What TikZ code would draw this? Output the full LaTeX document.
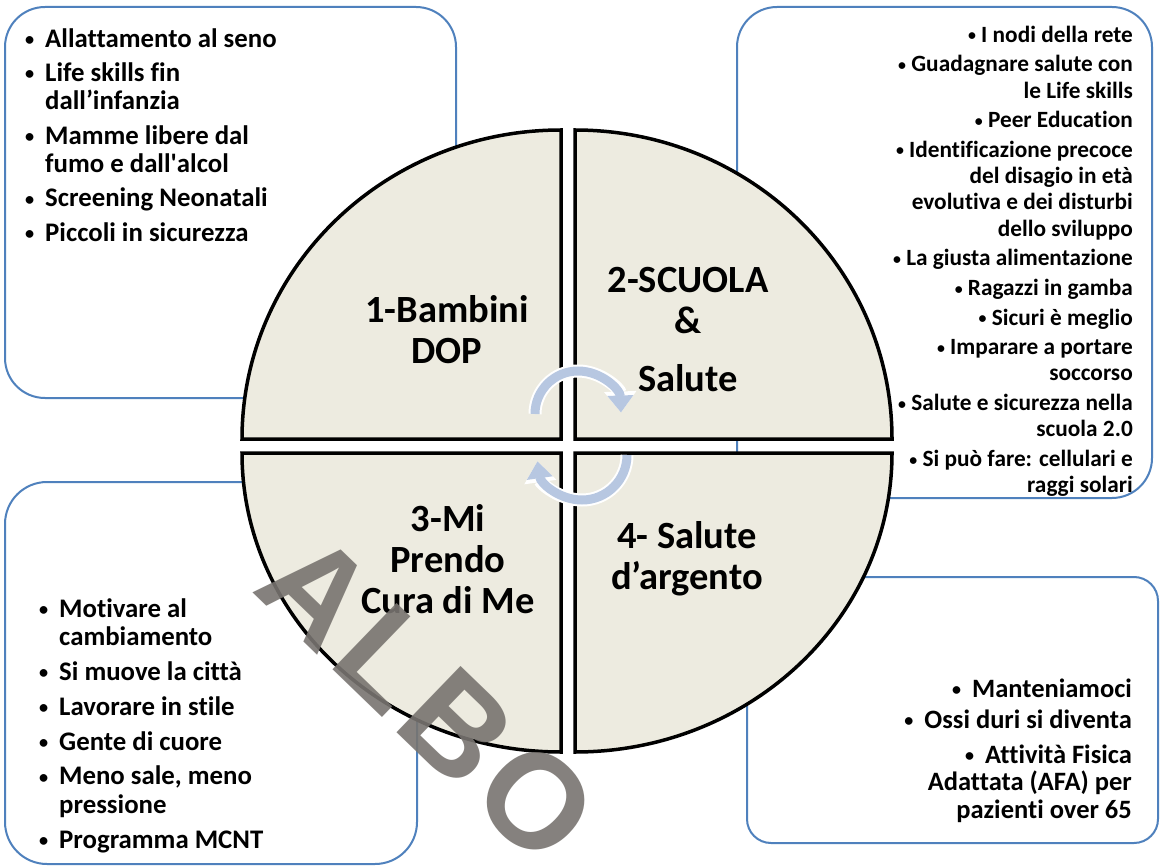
\documentclass[tikz,border=0pt]{standalone}
\usepackage{fontspec}
\setmainfont{Carlito}[Ligatures=NoCommon]
\newfontfamily\wmfont{Liberation Sans}
\usetikzlibrary{arrows.meta}

\definecolor{beige}{RGB}{237,235,224}
\definecolor{boxblue}{RGB}{79,129,189}
\definecolor{cycleblue}{RGB}{183,199,225}
\definecolor{wmgray}{RGB}{120,116,112}

\newcommand{\bul}{\raisebox{0.06em}{\scalebox{0.68}{\textbullet}}}
\newcommand{\blt}{\leavevmode\llap{\bul\hspace{11pt}}}

\begin{document}
\begin{tikzpicture}[x=1pt, y=1pt,
  listbox/.style={draw=boxblue, line width=2pt, fill=white},
  quarter/.style={draw=black, line width=3.5pt, fill=beige},
  qlabel/.style={font=\bfseries\fontsize{38.5}{41}\selectfont, align=center, inner sep=0pt, anchor=north},
  leftlist/.style={font=\bfseries\fontsize{26.8}{28.5}\selectfont, text width=380pt, align=flush left, inner sep=0pt, anchor=north west},
  rightlist/.style={font=\bfseries\fontsize{23.3}{26.3}\selectfont, text width=400pt, align=flush right, inner sep=0pt, anchor=north east},
  cyclearrow/.style={draw=cycleblue, line width=9pt, -{Triangle[length=17pt,width=25pt]},
    preaction={draw=white, line width=13pt, -{Triangle[length=21pt,width=31pt]}}},
  watermark/.style={font=\wmfont\bfseries\fontsize{134}{134}\selectfont, text=wmgray, text opacity=0.9, inner sep=0pt}]
	\fill[white] (0,0) rectangle (1161,-866);
	\useasboundingbox (0,0) rectangle (1161,-866);
	
	% the four lists
	\draw[listbox, rounded corners=40pt] (5,-7) rectangle (456,-398);
	\draw[listbox, rounded corners=40pt] (737,-7) rectangle (1152,-498);
	\draw[listbox, rounded corners=42pt] (5,-482) rectangle (417,-864);
	\draw[listbox, rounded corners=24pt] (747,-577) rectangle (1158,-843);
	
	\node[leftlist] (listDOP) at (45,-27) {\strut\blt Allattamento al seno\\[5.75pt]
		\blt Life skills fin\\dall’infanzia\\[5.75pt]
		\blt Mamme libere dal\\fumo e dall\textquotesingle alcol\\[5.75pt]
		\blt Screening Neonatali\\[5.75pt]
		\blt Piccoli in sicurezza};
	\node[rightlist] (listScuola) at (1133,-23.6) {\strut\bul\ I nodi della rete\\[3.3pt]
		\bul\ Guadagnare salute con\\le Life skills\\[3.3pt]
		\bul\ Peer Education\\[3.3pt]
		\bul\ Identificazione precoce\\del disagio in età\\evolutiva e dei disturbi\\dello sviluppo\\[3.3pt]
		\bul\ La giusta alimentazione\\[3.3pt]
		\bul\ Ragazzi in gamba\\[3.3pt]
		\bul\ Sicuri è meglio\\[3.3pt]
		\bul\ Imparare a portare\\soccorso\\[3.3pt]
		\bul\ Salute e sicurezza nella\\scuola 2.0\\[3.3pt]
		\bul\ Si può fare: cellulari e\\raggi solari};
	\node[leftlist] (listCura) at (59,-597) {\strut\blt Motivare al\\cambiamento\\[6.3pt]
		\blt Si muove la città\\[6.3pt]
		\blt Lavorare in stile\\[6.3pt]
		\blt Gente di cuore\\[6.3pt]
		\blt Meno sale, meno\\pressione\\[6.3pt]
		\blt Programma MCNT};
	\node[rightlist, font=\bfseries\fontsize{26.5}{27.5}\selectfont] (listArgento) at (1132,-677.7) {\strut\bul\hspace{11pt}Manteniamoci\\[3.5pt]
		\bul\hspace{11pt}Ossi duri si diventa\\[7.5pt]
		\bul\hspace{11pt}Attività Fisica\\Adattata (AFA) per\\pazienti over 65};
	
	% circle in four parts
	\draw[quarter] (561,-439) -- (242,-439) arc[start angle=180, end angle=90, x radius=319, y radius=309] -- cycle;
	\draw[quarter] (575,-439) -- (575,-130) arc[start angle=90, end angle=0, x radius=317, y radius=309] -- cycle;
	\draw[quarter] (561,-453) -- (242,-453) arc[start angle=180, end angle=270, x radius=319, y radius=299] -- cycle;
	\draw[quarter] (575,-453) -- (892,-453) arc[start angle=0, end angle=-90, x radius=317, y radius=299] -- cycle;
	
	\node[qlabel] (q1) at (447,-293.3) {\strut 1-Bambini\\DOP};
	\node[qlabel] (q2) at (688,-263.3) {\strut 2-SCUOLA\\\&\\[17pt]Salute};
	\node[qlabel] (q3) at (448,-502.3) {\strut 3-Mi\\Prendo\\Cura di Me};
	\node[qlabel] (q4) at (687,-519.3) {\strut 4- Salute\\d’argento};
	
	% cycle
	\draw[cyclearrow] (535,-414) arc[start angle=180, end angle=2, radius=43];
	\draw[cyclearrow] (627,-455) arc[start angle=0, end angle=-172, radius=45];
	
	\node[watermark, rotate=-44] (albo) at (428,-698) {A\kern8pt L\kern8pt B\kern8pt O};
\end{tikzpicture}
\end{document}
